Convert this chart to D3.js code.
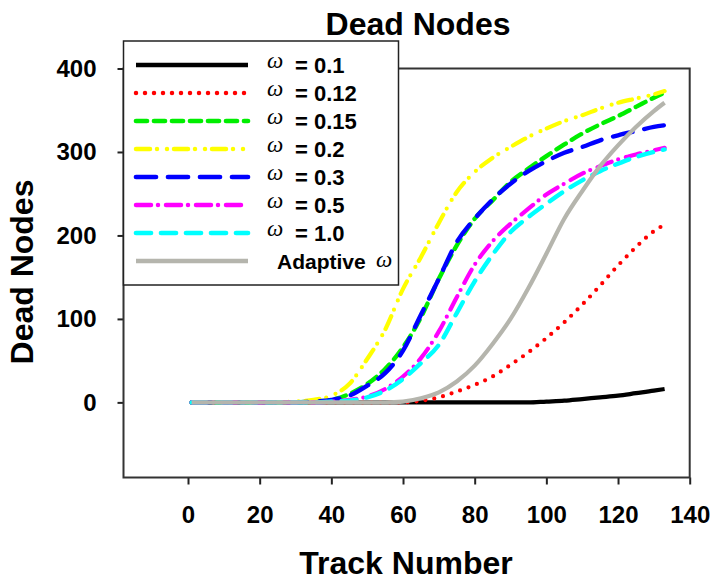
<!DOCTYPE html>
<html lang="en">
<head>
  <meta charset="UTF-8">
  <title>Dead Nodes</title>
  <script src="https://d3js.org/d3.v7.min.js"></script>
  <style>
    body { margin: 0; background: #fff; }
    text { font-family: "Liberation Sans", Arial, sans-serif; font-weight: bold; fill: #000; }
  </style>
</head>
<body>
  <div id="canvas"></div>
  <script>
    // data
    const trackNumber = [1, 10, 20, 30, 35, 40, 45, 50, 55, 60, 65, 70, 75, 80, 85, 90, 95, 100, 105, 110, 115, 120, 125, 130, 133];
    const w01   = [0, 0, 0, 0, 0, 0, 0, 0, 0, 0, 0, 0, 0, 0, 0, 0, 0, 1, 2, 4, 6, 8, 11, 14, 16];
    const w012  = [0, 0, 0, 0, 0, 0, 0, 0, 0, 0, 2, 6, 13, 21, 31, 45, 60, 77, 96, 117, 140, 164, 186, 205, 213];
    const w015  = [0, 0, 0, 0, 1, 3, 10, 22, 40, 66, 102, 148, 188, 220, 242, 264, 280, 295, 309, 322, 333, 343, 354, 365, 371];
    const w02   = [0, 0, 0, 1, 3, 8, 22, 52, 87, 136, 174, 215, 252, 276, 293, 306, 318, 328, 337, 344, 352, 359, 364, 369, 373];
    const w03   = [0, 0, 0, 0, 1, 3, 8, 20, 35, 62, 105, 148, 192, 220, 243, 262, 277, 289, 299, 306, 314, 320, 325, 330, 332];
    const w05   = [0, 0, 0, 0, 0, 1, 3, 7, 16, 31, 53, 85, 126, 165, 193, 214, 232, 249, 262, 274, 283, 291, 297, 302, 305];
    const w10   = [0, 0, 0, 0, 0, 1, 2, 6, 14, 28, 47, 69, 107, 145, 177, 204, 222, 238, 253, 266, 277, 286, 294, 300, 303];
    const adapt = [0, 0, 0, 0, 0, 0, 0, 0, 0, 1, 5, 12, 25, 44, 70, 100, 137, 178, 220, 253, 283, 308, 330, 349, 359];

    const seriesNames = ['0.1', '0.12', '0.15', '0.2', '0.3', '0.5', '1.0', 'Adaptive'];
    const seriesValues = [w01, w012, w015, w02, w03, w05, w10, adapt];
    const xTicks = [0, 20, 40, 60, 80, 100, 120, 140];
    const yTicks = [0, 100, 200, 300, 400];

    const styles = [
      { color: '#000000', dash: null, round: false, w: 4.2 },
      { color: '#ff0000', dash: '0 9', round: true, w: 4.2 },
      { color: '#00ee00', dash: '11 7', round: true, w: 4.4 },
      { color: '#ffff00', dash: '14 7 0 10 0 7', round: true, w: 4.2 },
      { color: '#0000ff', dash: '20 12', round: true, w: 4.4 },
      { color: '#ff00ff', dash: '15 7 0 8', round: true, w: 4.2 },
      { color: '#00ffff', dash: '15 10', round: true, w: 4.4 },
      { color: '#b5b5ad', dash: null, round: false, w: 4.2 }
    ];

    const width = 717, height = 584;
    const plotLeft = 123.5, plotRight = 689.7, plotTop = 68.5, plotBottom = 477.5;

    const svg = d3.select('#canvas').append('svg')
      .attr('width', width)
      .attr('height', height);

    const x = d3.scaleLinear().domain([-18, 140]).range([plotLeft, plotRight]);
    const y = d3.scaleLinear().domain([-90, 400]).range([plotBottom, plotTop]);

    // axes
    const xAxis = svg.append('g')
      .attr('transform', 'translate(0,' + plotBottom + ')')
      .call(d3.axisBottom(x).tickValues(xTicks).tickSize(7).tickPadding(21));
    const yAxis = svg.append('g')
      .attr('transform', 'translate(' + plotLeft + ',0)')
      .call(d3.axisLeft(y).tickValues(yTicks).tickSize(6).tickPadding(21));
    [xAxis, yAxis].forEach(g => {
      g.select('.domain').remove();
      g.selectAll('line').attr('stroke', '#222').attr('stroke-width', 2);
      g.selectAll('text')
        .attr('font-family', null)
        .style('font-size', '24px')
        .attr('fill', '#000');
    });

    svg.append('rect')
      .attr('x', plotLeft).attr('y', plotTop)
      .attr('width', plotRight - plotLeft).attr('height', plotBottom - plotTop)
      .attr('fill', 'none').attr('stroke', '#333').attr('stroke-width', 2);

    const line = d3.line()
      .x((d, i) => x(trackNumber[i]))
      .y(d => y(d))
      .curve(d3.curveMonotoneX);

    seriesValues.forEach((vals, i) => {
      svg.append('path')
        .attr('d', line(vals))
        .attr('fill', 'none')
        .attr('stroke', styles[i].color)
        .attr('stroke-width', styles[i].w)
        .attr('stroke-linecap', styles[i].round ? 'round' : 'butt')
        .attr('stroke-dasharray', styles[i].dash);
    });

    // legend
    const legend = svg.append('g');
    legend.append('rect')
      .attr('x', 123.5).attr('y', 41)
      .attr('width', 275).attr('height', 244)
      .attr('fill', '#fff').attr('stroke', '#222').attr('stroke-width', 1.5);

    seriesNames.forEach((name, i) => {
      const ry = 65 + i * 28;
      legend.append('line')
        .attr('x1', 136).attr('x2', 248)
        .attr('y1', ry).attr('y2', ry)
        .attr('stroke', styles[i].color)
        .attr('stroke-width', styles[i].w + 0.3)
        .attr('stroke-linecap', styles[i].round ? 'round' : 'butt')
        .attr('stroke-dasharray', styles[i].dash);
      if (name === 'Adaptive') {
        legend.append('text').attr('x', 277).attr('y', ry + 8)
          .style('font-size', '21px').text('Adaptive');
        legend.append('text').attr('x', 376).attr('y', ry + 6)
          .style('font-family', '"Liberation Serif", serif')
          .style('font-style', 'italic').style('font-weight', 'normal')
          .style('font-size', '23px').text('ω');
      } else {
        legend.append('text').attr('x', 267).attr('y', ry + 3)
          .style('font-family', '"Liberation Serif", serif')
          .style('font-style', 'italic').style('font-weight', 'normal')
          .style('font-size', '23px').text('ω');
        legend.append('text').attr('x', 295).attr('y', ry + 8)
          .style('font-size', '22px').text('= ' + name);
      }
    });

    // titles
    svg.append('text')
      .attr('x', 418).attr('y', 35)
      .attr('text-anchor', 'middle')
      .style('font-size', '32px')
      .text('Dead Nodes');
    svg.append('text')
      .attr('x', 406).attr('y', 574)
      .attr('text-anchor', 'middle')
      .style('font-size', '32px')
      .text('Track Number');
    svg.append('text')
      .attr('transform', 'translate(33,272) rotate(-90)')
      .attr('text-anchor', 'middle')
      .style('font-size', '32px')
      .text('Dead Nodes');
  </script>
</body>
</html>
